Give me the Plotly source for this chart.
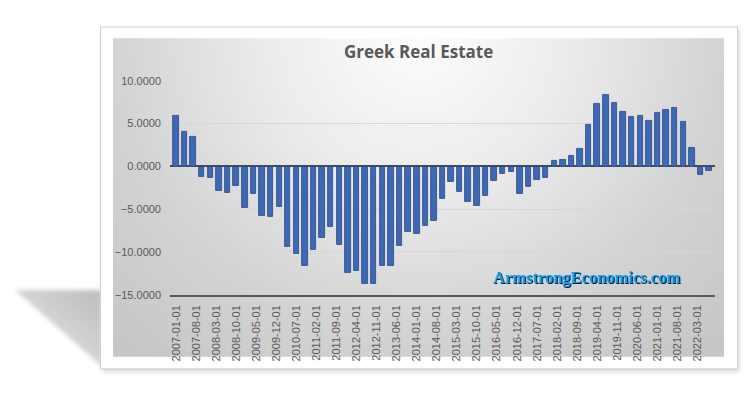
import base64
import plotly.graph_objects as go

# ---------------- data ----------------
dates = [
    "2007-01-01", "2007-04-01", "2007-07-01", "2007-10-01",
    "2008-01-01", "2008-04-01", "2008-07-01", "2008-10-01",
    "2009-01-01", "2009-04-01", "2009-07-01", "2009-10-01",
    "2010-01-01", "2010-04-01", "2010-07-01", "2010-10-01",
    "2011-01-01", "2011-04-01", "2011-07-01", "2011-10-01",
    "2012-01-01", "2012-04-01", "2012-07-01", "2012-10-01",
    "2013-01-01", "2013-04-01", "2013-07-01", "2013-10-01",
    "2014-01-01", "2014-04-01", "2014-07-01", "2014-10-01",
    "2015-01-01", "2015-04-01", "2015-07-01", "2015-10-01",
    "2016-01-01", "2016-04-01", "2016-07-01", "2016-10-01",
    "2017-01-01", "2017-04-01", "2017-07-01", "2017-10-01",
    "2018-01-01", "2018-04-01", "2018-07-01", "2018-10-01",
    "2019-01-01", "2019-04-01", "2019-07-01", "2019-10-01",
    "2020-01-01", "2020-04-01", "2020-07-01", "2020-10-01",
    "2021-01-01", "2021-04-01", "2021-07-01", "2021-10-01",
    "2022-01-01", "2022-04-01", "2022-07-01",
]

values = [
    5.88, 4.09, 3.49, -1.22,
    -1.36, -2.88, -3.07, -2.27,
    -4.81, -3.15, -5.80, -5.91,
    -4.69, -9.35, -10.23, -11.56,
    -9.69, -8.38, -7.01, -9.17,
    -12.39, -12.24, -13.75, -13.75,
    -11.56, -11.56, -9.28, -7.65,
    -7.92, -6.90, -6.33, -3.83,
    -1.78, -2.92, -4.09, -4.55,
    -3.49, -1.63, -0.83, -0.65,
    -3.24, -2.35, -1.61, -1.33,
    0.65, 0.76, 1.28, 2.08,
    4.85, 7.27, 8.38, 7.42,
    6.36, 5.80, 5.94, 5.38,
    6.25, 6.56, 6.90, 5.23,
    2.16, -0.94, -0.49,
]

tick_labels = [
    "2007-01-01", "2007-08-01", "2008-03-01", "2008-10-01", "2009-05-01",
    "2009-12-01", "2010-07-01", "2011-02-01", "2011-09-01", "2012-04-01",
    "2012-11-01", "2013-06-01", "2014-01-01", "2014-08-01", "2015-03-01",
    "2015-10-01", "2016-05-01", "2016-12-01", "2017-07-01", "2018-02-01",
    "2018-09-01", "2019-04-01", "2019-11-01", "2020-06-01", "2021-01-01",
    "2021-08-01", "2022-03-01",
]

y_ticks = [-15, -10, -5, 0, 5, 10]

title_text = "Greek Real Estate"
watermark = "ArmstrongEconomics.com"

# ---------------- layout helpers ----------------
# The page body has an 8px margin; the figure is sized so the page fits the window exactly.
OFF = 8
W, H = 754 - 2 * OFF, 394 - 2 * OFF


def px_x(x):
    return (x - OFF) / W


def px_y(y):
    return 1 - (y - OFF) / H


# Decorative background (frame, shadow, gradient) as an SVG image, drawn in window pixels
svg = f"""<svg xmlns='http://www.w3.org/2000/svg' width='{W}' height='{H}' viewBox='{OFF} {OFF} {W} {H}'>
<defs>
<radialGradient id='bg' gradientUnits='userSpaceOnUse' cx='418' cy='30' r='450'>
<stop offset='0' stop-color='#fdfdfd'/>
<stop offset='0.33' stop-color='#ececec'/>
<stop offset='0.68' stop-color='#d3d3d3'/>
<stop offset='1' stop-color='#c5c5c5'/>
</radialGradient>
<linearGradient id='sh' x1='1' y1='0' x2='0' y2='1'>
<stop offset='0' stop-color='#bdbdbd'/>
<stop offset='0.6' stop-color='#d8d8d8'/>
<stop offset='1' stop-color='#ffffff'/>
</linearGradient>
<filter id='blur' x='-20%' y='-20%' width='140%' height='140%'><feGaussianBlur stdDeviation='2'/></filter>
<filter id='blur2' x='-5%' y='-5%' width='110%' height='110%'><feGaussianBlur stdDeviation='2.5'/></filter>
</defs>
<rect x='0' y='0' width='800' height='420' fill='#ffffff'/>
<polygon points='15,293 101,293 101,371' fill='url(#sh)' filter='url(#blur)'/>
<rect x='102' y='24' width='637' height='353' fill='#000000' opacity='0.18' filter='url(#blur2)'/>
<rect x='100.5' y='21.5' width='637' height='353' fill='#ffffff' stroke='#cfcfcf' stroke-width='1'/>
<rect x='113' y='33' width='611' height='329' fill='url(#bg)'/>
</svg>"""
svg_uri = "data:image/svg+xml;base64," + base64.b64encode(svg.encode("utf-8")).decode("ascii")

DAY_MS = 86400000

fig = go.Figure()
fig.add_trace(
    go.Bar(
        x=dates,
        y=values,
        width=58 * DAY_MS,
        marker=dict(color="#3d68b3", line=dict(color="#27478a", width=0.8)),
        hoverinfo="x+y",
    )
)

fig.update_layout(
    width=W,
    height=H,
    autosize=False,
    margin=dict(l=0, r=0, t=0, b=0),
    paper_bgcolor="#ffffff",
    plot_bgcolor="rgba(0,0,0,0)",
    showlegend=False,
    bargap=0,
    images=[
        dict(
            source=svg_uri,
            xref="paper",
            yref="paper",
            x=0,
            y=1,
            sizex=1,
            sizey=1,
            xanchor="left",
            yanchor="top",
            sizing="stretch",
            layer="below",
        )
    ],
    xaxis=dict(
        domain=[px_x(170), px_x(715)],
        type="date",
        range=["2006-10-29", "2022-09-03"],
        tickmode="array",
        tickvals=tick_labels,
        ticktext=tick_labels,
        tickangle=-90,
        tickfont=dict(family="Liberation Sans, Arial, sans-serif", size=11, color="#595959"),
        showgrid=False,
        showline=True,
        linecolor="#595959",
        linewidth=2,
        ticks="",
        ticklabelstandoff=4,
        zeroline=False,
        fixedrange=True,
    ),
    yaxis=dict(
        domain=[px_y(298), px_y(77)],
        range=[-15, 10],
        tickmode="array",
        tickvals=y_ticks,
        tickformat=".4f",
        tickfont=dict(family="Liberation Sans, Arial, sans-serif", size=11, color="#595959"),
        showgrid=True,
        gridcolor="#d6d6d6",
        gridwidth=1,
        zeroline=True,
        zerolinecolor="#4a4a4a",
        zerolinewidth=2,
        showline=False,
        ticks="",
        ticklabelstandoff=8,
        fixedrange=True,
    ),
    annotations=[
        dict(
            text="<b>" + title_text + "</b>",
            xref="paper",
            yref="paper",
            x=px_x(418),
            y=px_y(46.5),
            xanchor="center",
            yanchor="middle",
            showarrow=False,
            font=dict(family="Open Sans, Liberation Sans, sans-serif", size=17, color="#595959"),
        ),
        dict(
            text="<b>" + watermark + "</b>",
            xref="paper",
            yref="paper",
            x=px_x(587.2),
            y=px_y(281.2),
            xanchor="center",
            yanchor="middle",
            showarrow=False,
            font=dict(family="Liberation Serif, Times New Roman, serif", size=16.5, color="#101828"),
        ),
        dict(
            text="<b>" + watermark + "</b>",
            xref="paper",
            yref="paper",
            x=px_x(586),
            y=px_y(280),
            xanchor="center",
            yanchor="middle",
            showarrow=False,
            font=dict(family="Liberation Serif, Times New Roman, serif", size=16.5, color="#0a9ff0"),
        ),
    ],
)

fig.write_html("out.html")
